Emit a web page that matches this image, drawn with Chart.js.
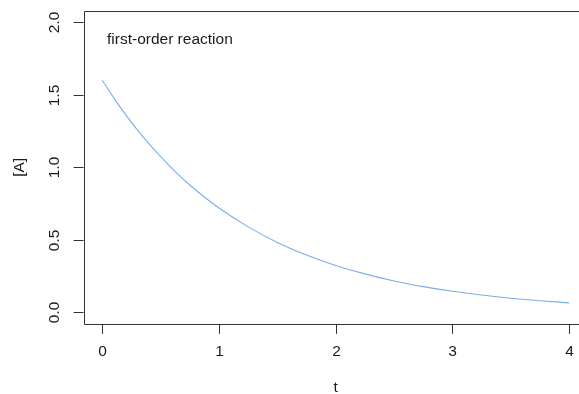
<!DOCTYPE html>
<html>
<head>
<meta charset="utf-8">
<script src="https://cdn.jsdelivr.net/npm/chart.js@4.4.1/dist/chart.umd.min.js"></script>
<style>
  html, body { margin: 0; padding: 0; background: #fff; overflow: hidden; }
  #wrap { width: 579px; height: 394px; position: relative; }
</style>
</head>
<body>
<div id="wrap"><canvas id="decay"></canvas></div>
<script>
// concentration of A over time (finer steps where the curve bends most)
const times = [0, 0.125, 0.25, 0.375, 0.5, 0.625, 0.75, 0.875, 1, 1.25, 1.5, 1.75, 2, 2.25, 2.5, 2.75, 3, 3.25, 3.5, 3.75, 4];
const conc = [1.600, 1.448, 1.310, 1.185, 1.073, 0.970, 0.878, 0.795, 0.719, 0.589, 0.482, 0.395, 0.323, 0.265, 0.216, 0.177, 0.145, 0.119, 0.097, 0.080, 0.065];

const xTicks = [0, 1, 2, 3, 4];
const yTicks = [0.0, 0.5, 1.0, 1.5, 2.0];
const xTitle = 't';
const yTitle = '[A]';
const note = 'first-order reaction';

const FONT = '"Liberation Sans", Arial, Helvetica, sans-serif';
const INK = '#1a1a1a';

// base-graphics style frame: box, outward ticks, rotated y labels
const framePlugin = {
    id: 'frame',
    afterDraw(chart) {
        const ctx = chart.ctx;
        const area = chart.chartArea;
        const xs = chart.scales.x;
        const ys = chart.scales.y;
        ctx.save();
        ctx.strokeStyle = '#333';
        ctx.lineWidth = 1;

        // box (right side falls outside the canvas)
        ctx.beginPath();
        ctx.moveTo(area.right + 20, Math.round(area.top) + 0.5);
        ctx.lineTo(Math.round(area.left) + 0.5, Math.round(area.top) + 0.5);
        ctx.lineTo(Math.round(area.left) + 0.5, Math.round(area.bottom) + 0.5);
        ctx.lineTo(area.right + 20, Math.round(area.bottom) + 0.5);
        ctx.stroke();

        ctx.fillStyle = INK;
        ctx.font = '15.5px ' + FONT;

        // x axis ticks and labels
        ctx.textAlign = 'center';
        ctx.textBaseline = 'middle';
        xTicks.forEach(v => {
            const px = Math.round(xs.getPixelForValue(v)) + 0.5;
            ctx.beginPath();
            ctx.moveTo(px, area.bottom);
            ctx.lineTo(px, area.bottom + 10);
            ctx.stroke();
            ctx.fillText(String(v), px, 352);
        });

        // y axis ticks and rotated labels
        yTicks.forEach(v => {
            const py = Math.round(ys.getPixelForValue(v)) + 0.5;
            ctx.beginPath();
            ctx.moveTo(area.left, py);
            ctx.lineTo(area.left - 10, py);
            ctx.stroke();
            ctx.save();
            ctx.translate(55, py);
            ctx.rotate(-Math.PI / 2);
            ctx.fillText(v.toFixed(1), 0, 0);
            ctx.restore();
        });

        // axis titles
        ctx.fillText(xTitle, xs.getPixelForValue(2), 388);
        ctx.save();
        ctx.translate(20, (area.top + area.bottom) / 2);
        ctx.rotate(-Math.PI / 2);
        ctx.fillText(yTitle, 0, 0);
        ctx.restore();

        // annotation in the upper left
        ctx.textAlign = 'left';
        ctx.fillText(note, 107, 40);
        ctx.restore();
    }
};

new Chart(document.getElementById('decay'), {
    type: 'scatter',
    data: {
        datasets: [{
            data: times.map((t, i) => ({ x: t, y: conc[i] })),
            showLine: true,
            borderColor: '#7aaeea',
            borderWidth: 1.1,
            pointRadius: 0,
            cubicInterpolationMode: 'monotone',
            fill: false
        }]
    },
    options: {
        responsive: true,
        maintainAspectRatio: false,
        animation: false,
        devicePixelRatio: 1,
        layout: { padding: { left: 83.6, top: 10.7, bottom: 70.1, right: 0 } },
        scales: {
            x: { type: 'linear', display: false, min: -0.16, max: 4.085 },
            y: { type: 'linear', display: false, min: -0.08, max: 2.08 }
        },
        plugins: {
            legend: { display: false },
            tooltip: { enabled: false }
        }
    },
    plugins: [framePlugin]
});
</script>
</body>
</html>
